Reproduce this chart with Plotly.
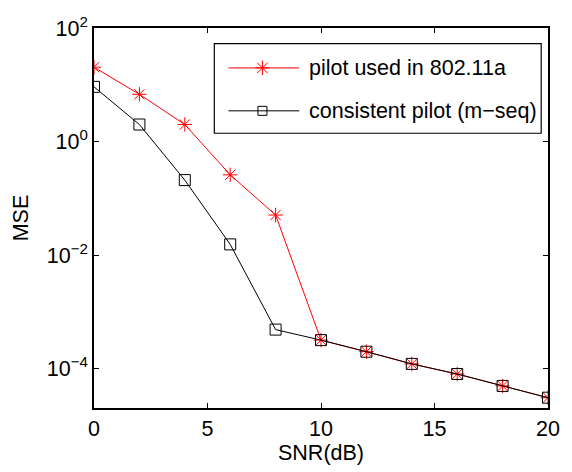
import plotly.graph_objects as go

snr = [0, 2, 4, 6, 8, 10, 12, 14, 16, 18, 20]
mse_80211a = [20.4, 6.8, 2.0, 0.26, 0.051, 3.2e-4, 2.0e-4, 1.22e-4, 8.1e-5, 5.0e-5, 3.1e-5]
mse_mseq = [9.2, 2.0, 0.21, 0.0155, 4.9e-4, 3.2e-4, 2.0e-4, 1.22e-4, 8.1e-5, 5.0e-5, 3.1e-5]
names = ["pilot used in 802.11a", "consistent pilot (m\u2212seq)"]
x_ticks = [0, 5, 10, 15, 20]
y_exps = [2, 0, -2, -4]

FONT = "Liberation Sans, Arial, Helvetica, sans-serif"
RED = "#ff0000"
BLACK = "#000000"

fig = go.Figure()
fig.add_trace(go.Scatter(x=snr, y=mse_80211a, mode="lines+markers", name=names[0],
                         line=dict(color=RED, width=1),
                         marker=dict(symbol="asterisk-open", size=12, color=RED, line=dict(color=RED, width=1)),
                         showlegend=False))
fig.add_trace(go.Scatter(x=snr, y=mse_mseq, mode="lines+markers", name=names[1],
                         line=dict(color=BLACK, width=1),
                         marker=dict(symbol="square-open", size=11, color=BLACK, line=dict(color=BLACK, width=1)),
                         showlegend=False))

# custom legend (paper coordinates relative to plot area)
lx0, lx1, lxm, ltx = 0.296, 0.452, 0.371, 0.469
ly = [0.895, 0.782]
fig.add_shape(type="rect", xref="paper", yref="paper", x0=0.265, x1=0.985, y0=0.723, y1=0.959,
              line=dict(color=BLACK, width=1.2), fillcolor="white", layer="below")
colors = [RED, BLACK]
for i in range(2):
    fig.add_shape(type="line", xref="paper", yref="paper", x0=lx0, x1=lx1, y0=ly[i], y1=ly[i],
                  line=dict(color=colors[i], width=1), layer="below")
    fig.add_annotation(xref="paper", yref="paper", x=ltx, y=ly[i], text=names[i], showarrow=False,
                       xanchor="left", yanchor="middle", font=dict(family=FONT, size=21.5, color=BLACK))
fig.add_trace(go.Scatter(x=[lxm], y=[ly[0]], xaxis="x2", yaxis="y2", mode="markers",
                         marker=dict(symbol="asterisk-open", size=12, color=RED, line=dict(color=RED, width=1)),
                         showlegend=False, hoverinfo="skip"))
fig.add_trace(go.Scatter(x=[lxm], y=[ly[1]], xaxis="x2", yaxis="y2", mode="markers",
                         marker=dict(symbol="square-open", size=9, color=BLACK, line=dict(color=BLACK, width=1)),
                         showlegend=False, hoverinfo="skip"))

axis_common = dict(showline=True, linecolor=BLACK, linewidth=1.6, mirror="ticks", ticks="inside",
                   ticklen=5, tickcolor=BLACK, tickwidth=1, showgrid=False, zeroline=False,
                   tickfont=dict(family=FONT, size=21.5, color=BLACK))

fig.update_layout(
    width=572, height=472,
    margin=dict(l=94, r=22, t=23, b=59),
    plot_bgcolor="white", paper_bgcolor="white",
    showlegend=False,
    xaxis=dict(range=[0, 20], tickvals=x_ticks, ticktext=[str(v) for v in x_ticks],
               title=dict(text="SNR(dB)", font=dict(family=FONT, size=21.5, color=BLACK), standoff=4),
               **axis_common),
    yaxis=dict(type="log", range=[-4.69, 2], tickvals=[10 ** e for e in y_exps],
               ticktext=["10<sup>%s</sup>" % (str(e).replace("-", "\u2212")) for e in y_exps],
               title=dict(text="MSE", font=dict(family=FONT, size=21.5, color=BLACK), standoff=12),
               **axis_common),
    xaxis2=dict(range=[0, 1], overlaying="x", visible=False, fixedrange=True),
    yaxis2=dict(range=[0, 1], overlaying="y", visible=False, fixedrange=True),
)

fig.write_html("out.html")
